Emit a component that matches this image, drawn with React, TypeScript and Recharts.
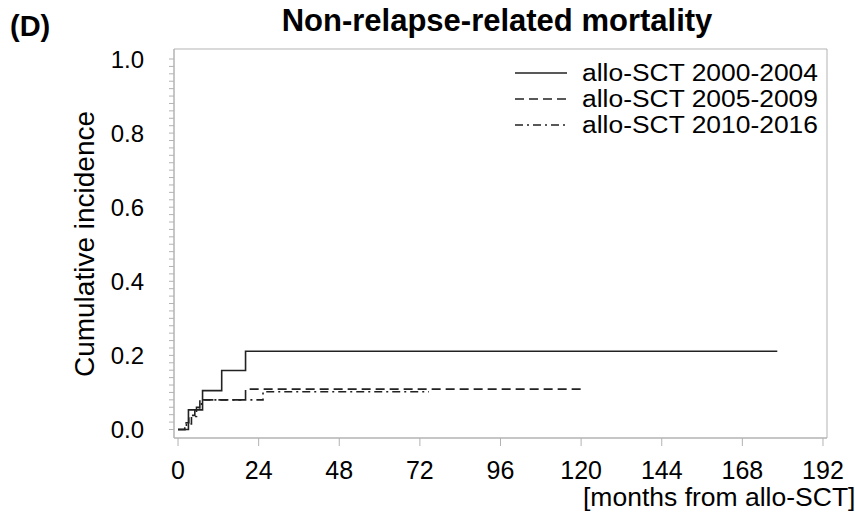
import { LineChart, Line, XAxis, YAxis, ReferenceArea } from "recharts";

// cumulative incidence step curves
const seriesNames = ["allo-SCT 2000-2004", "allo-SCT 2005-2009", "allo-SCT 2010-2016"];

const months0004 = [0, 3.1, 7.3, 13, 20.1, 178.4];
const cif0004 = [0, 0.053, 0.105, 0.159, 0.211, 0.211];

const months0509 = [0, 2, 3.2, 5, 6.5, 20.1, 121.2];
const cif0509 = [0, 0.018, 0.038, 0.058, 0.08, 0.109, 0.109];

const months1016 = [0, 2.5, 4, 5.5, 7, 25.3, 74.7];
const cif1016 = [0, 0.015, 0.035, 0.06, 0.08, 0.102, 0.102];

const xTicks = [0, 24, 48, 72, 96, 120, 144, 168, 192];
const yTicks = Array.from({ length: 51 }, (_, i) => i / 50);

const toRows = (t: number[], v: number[]) => t.map((m, i) => ({ t: m, v: v[i] }));

const dashes = [undefined, "9 5", "8 4 2 4"];
const curves = [
  toRows(months0004, cif0004),
  toRows(months0509, cif0509),
  toRows(months1016, cif1016),
];

const FONT = '"Liberation Sans", Arial, sans-serif';
const LINE = "#222";
const FRAME = "#b3b3b3";

const YTick = (props: any) => {
  const { x, y, payload } = props;
  if (Math.round(payload.value * 50) % 10 !== 0) return <g />;
  return (
    <text x={x} y={y} dy="0.355em" textAnchor="end" fontSize={24} fill="#000" fontFamily={FONT}>
      {payload.value.toFixed(1)}
    </text>
  );
};

export default function App() {
  return (
    <div style={{ position: "absolute", left: 0, top: 0, width: 855, height: 514, background: "#fff", fontFamily: FONT, overflow: "hidden" }}>
      <LineChart width={855} height={514} margin={{ top: 49, right: 28, bottom: 0, left: 0 }}>
        <XAxis
          type="number"
          dataKey="t"
          domain={[-1.2, 193.2]}
          ticks={xTicks}
          allowDataOverflow
          height={76}
          stroke={FRAME}
          tickSize={8}
          tickMargin={15}
          tick={{ fontSize: 25, fill: "#000", fontFamily: FONT }}
        />
        <YAxis
          type="number"
          domain={[-0.023, 1.027]}
          ticks={yTicks}
          interval={0}
          allowDataOverflow
          width={174}
          stroke={FRAME}
          tickSize={5}
          tickMargin={25}
          tick={<YTick />}
        />
        <ReferenceArea x1={-1.2} x2={193.2} y1={-0.023} y2={1.027} fill="none" stroke={FRAME} strokeWidth={1} />
        {curves.map((rows, i) => (
          <Line
            key={seriesNames[i]}
            data={rows}
            dataKey="v"
            type="stepAfter"
            stroke={LINE}
            strokeWidth={1.6}
            strokeDasharray={dashes[i]}
            dot={false}
            isAnimationActive={false}
          />
        ))}
      </LineChart>

      <div style={{ position: "absolute", left: 10, top: 10, fontSize: 29, fontWeight: "bold" }}>(D)</div>
      <div style={{ position: "absolute", left: 0, width: 994, top: 3, textAlign: "center", fontSize: 31, fontWeight: "bold", whiteSpace: "nowrap" }}>
        Non-relapse-related mortality
      </div>
      <div style={{ position: "absolute", left: 85, top: 244, transform: "translate(-50%, -50%) rotate(-90deg)", fontSize: 28, whiteSpace: "nowrap" }}>
        Cumulative incidence
      </div>
      <div style={{ position: "absolute", left: 583, top: 482, fontSize: 26.5, whiteSpace: "nowrap" }}>
        [months from allo-SCT]
      </div>

      <svg style={{ position: "absolute", left: 505, top: 58 }} width={345} height={84}>
        {seriesNames.map((name, i) => (
          <g key={name}>
            <line x1={10} x2={62} y1={15 + i * 26} y2={15 + i * 26} stroke={LINE} strokeWidth={1.6} strokeDasharray={dashes[i]} />
            <text
              x={77}
              y={15 + i * 26}
              dy="0.355em"
              fontSize={23}
              textLength={236}
              lengthAdjust="spacingAndGlyphs"
              fill="#000"
              fontFamily={FONT}
            >
              {name}
            </text>
          </g>
        ))}
      </svg>
    </div>
  );
}
